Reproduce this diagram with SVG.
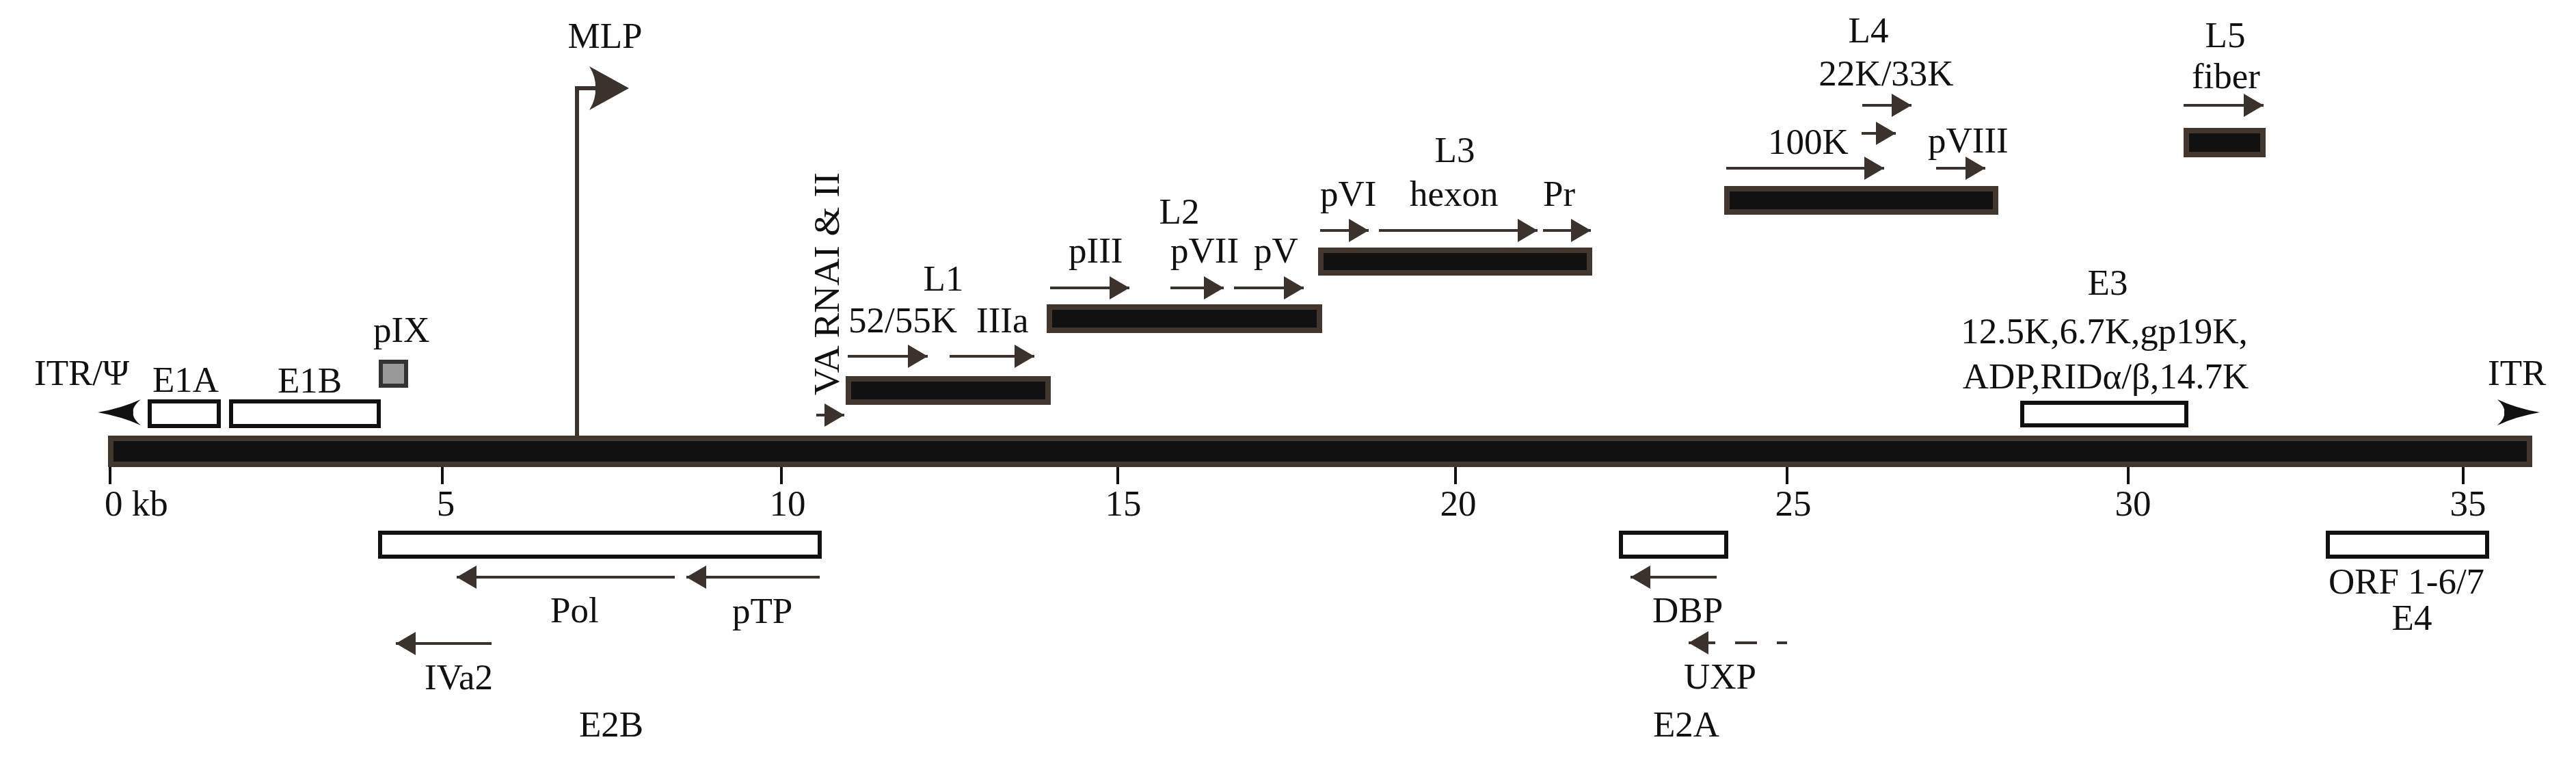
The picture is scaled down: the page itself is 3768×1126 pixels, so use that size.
<svg xmlns="http://www.w3.org/2000/svg" width="3768" height="1126" viewBox="0 0 3768 1126">
<defs>
<style>
text{font-family:"Liberation Serif","Times New Roman",serif;font-size:53px;fill:#111}
.m{text-anchor:middle}
.bk{fill:#111;stroke:#42372f;stroke-width:8}
.wb{fill:#fff;stroke:#111;stroke-width:6}
.ar{stroke:#3b322d;stroke-width:4;fill:none}
.tk{stroke:#111;stroke-width:4}
.hd{fill:#3b322d}
.st{fill:#111}
</style>
<marker id="ah" markerUnits="userSpaceOnUse" markerWidth="30" markerHeight="36" refX="29" refY="17" orient="auto">
<path d="M0,0 L29,17 L0,34 Z" fill="#3b322d"/>
</marker>
</defs>
<rect width="3768" height="1126" fill="#fff"/>

<g id="genome">
<rect class="bk" x="162" y="641" width="3538" height="38"/>
<line class="tk" x1="161" y1="683" x2="161" y2="708"/>
<line class="tk" x1="647" y1="683" x2="647" y2="708"/>
<line class="tk" x1="1143" y1="683" x2="1143" y2="708"/>
<line class="tk" x1="1635" y1="683" x2="1635" y2="708"/>
<line class="tk" x1="2129" y1="683" x2="2129" y2="708"/>
<line class="tk" x1="2614" y1="683" x2="2614" y2="708"/>
<line class="tk" x1="3113" y1="683" x2="3113" y2="708"/>
<line class="tk" x1="3603" y1="683" x2="3603" y2="708"/>
<text x="153" y="754">0 kb</text>
<text class="m" x="652" y="754">5</text>
<text class="m" x="1152" y="754">10</text>
<text class="m" x="1643" y="754">15</text>
<text class="m" x="2133" y="754">20</text>
<text class="m" x="2623" y="754">25</text>
<text class="m" x="3120" y="754">30</text>
<text class="m" x="3610" y="754">35</text>
</g>

<g id="itr-left">
<path class="st" d="M143,603 Q178,597 206,584 Q193,595 195,603 Q193,611 206,622 Q178,609 143,603 Z"/>
<text x="50" y="563">ITR/Ψ</text>
</g>
<g id="itr-right">
<path class="st" d="M3715,603 Q3680,597 3653,584 Q3665,595 3663,603 Q3665,611 3653,622 Q3680,609 3715,603 Z"/>
<text x="3639" y="563">ITR</text>
</g>

<g id="E1A"><rect class="wb" x="219" y="587" width="101" height="36"/><text x="223" y="573">E1A</text></g>
<g id="E1B"><rect class="wb" x="338" y="587" width="216" height="36"/><text x="406" y="574">E1B</text></g>
<g id="pIX"><rect x="557" y="529" width="37" height="35" fill="#999" stroke="#333" stroke-width="6"/><text x="546" y="500">pIX</text></g>

<g id="MLP">
<path d="M844,637 V129 H872" fill="none" stroke="#3b322d" stroke-width="6"/>
<path class="hd" d="M920,129 L862,97 Q872,113 871,129 Q872,145 862,161 Z"/>
<text class="m" x="885" y="70">MLP</text>
</g>

<g id="VA">
<text x="0" y="0" font-size="56" textLength="326" lengthAdjust="spacingAndGlyphs" transform="translate(1227,578) rotate(-90)">VA RNAI &amp; II</text>
</g>

<g id="L1"><rect class="bk" x="1241" y="554" width="292" height="34"/><text class="m" x="1380" y="425">L1</text><text x="1241" y="486">52/55K</text><text x="1428" y="486">IIIa</text></g>
<g id="L2"><rect class="bk" x="1535" y="449" width="395" height="34"/><text class="m" x="1725" y="327">L2</text><text x="1563" y="384">pIII</text><text x="1712" y="384">pVII</text><text x="1834" y="384">pV</text></g>
<g id="L3"><rect class="bk" x="1932" y="366" width="393" height="33"/><text class="m" x="2128" y="237">L3</text><text x="1931" y="301">pVI</text><text x="2062" y="301">hexon</text><text x="2257" y="301">Pr</text></g>
<g id="L4"><rect class="bk" x="2526" y="276" width="393" height="34"/><text class="m" x="2733" y="62">L4</text><text class="m" x="2759" y="125">22K/33K</text><text x="2586" y="225">100K</text><text x="2820" y="223">pVIII</text></g>
<g id="L5"><rect class="bk" x="3198" y="191" width="112" height="35"/><text class="m" x="3255" y="69">L5</text><text class="m" x="3256" y="129">fiber</text></g>
<g id="E3"><rect class="wb" x="2958" y="589" width="240" height="33"/><text class="m" x="3083" y="431">E3</text><text class="m" x="3078" y="502">12.5K,6.7K,gp19K,</text><text class="m" x="3080" y="568">ADP,RIDα/β,14.7K</text></g>
<g id="E2B"><rect class="wb" x="556" y="779" width="643" height="35"/><text x="805" y="910">Pol</text><text x="1071" y="911">pTP</text><text x="621" y="1008">IVa2</text><text x="847" y="1077">E2B</text></g>
<g id="E2A"><rect class="wb" x="2371" y="779" width="154" height="35"/><text x="2417" y="910">DBP</text><text x="2463" y="1007">UXP</text><text x="2418" y="1077">E2A</text></g>
<g id="E4"><rect class="wb" x="3405" y="779" width="233" height="35"/><text class="m" x="3520" y="868">ORF 1-6/7</text><text class="m" x="3528" y="921">E4</text></g>

<g id="connectors">
<line class="ar" x1="1194" y1="607" x2="1235" y2="607" marker-end="url(#ah)"/>
<line class="ar" x1="1240" y1="521" x2="1357" y2="521" marker-end="url(#ah)"/>
<line class="ar" x1="1389" y1="521" x2="1513" y2="521" marker-end="url(#ah)"/>
<line class="ar" x1="1536" y1="421" x2="1652" y2="421" marker-end="url(#ah)"/>
<line class="ar" x1="1712" y1="421" x2="1790" y2="421" marker-end="url(#ah)"/>
<line class="ar" x1="1805" y1="421" x2="1907" y2="421" marker-end="url(#ah)"/>
<line class="ar" x1="1931" y1="337" x2="2002" y2="337" marker-end="url(#ah)"/>
<line class="ar" x1="2017" y1="337" x2="2249" y2="337" marker-end="url(#ah)"/>
<line class="ar" x1="2257" y1="337" x2="2327" y2="337" marker-end="url(#ah)"/>
<line class="ar" x1="2525" y1="246" x2="2756" y2="246" marker-end="url(#ah)"/>
<line class="ar" x1="2832" y1="246" x2="2904" y2="246" marker-end="url(#ah)"/>
<line class="ar" x1="2723" y1="195" x2="2773" y2="195" marker-end="url(#ah)"/>
<line class="ar" x1="2724" y1="154" x2="2796" y2="154" marker-end="url(#ah)"/>
<line class="ar" x1="3194" y1="154" x2="3311" y2="154" marker-end="url(#ah)"/>
<line class="ar" x1="987" y1="844" x2="668" y2="844" marker-end="url(#ah)"/>
<line class="ar" x1="1199" y1="844" x2="1004" y2="844" marker-end="url(#ah)"/>
<line class="ar" x1="719" y1="941" x2="579" y2="941" marker-end="url(#ah)"/>
<line class="ar" x1="2511" y1="844" x2="2385" y2="844" marker-end="url(#ah)"/>
<line class="ar" x1="2614" y1="940" x2="2470" y2="940" stroke-dasharray="15 29 32 29 60" marker-end="url(#ah)"/>
</g>
</svg>
